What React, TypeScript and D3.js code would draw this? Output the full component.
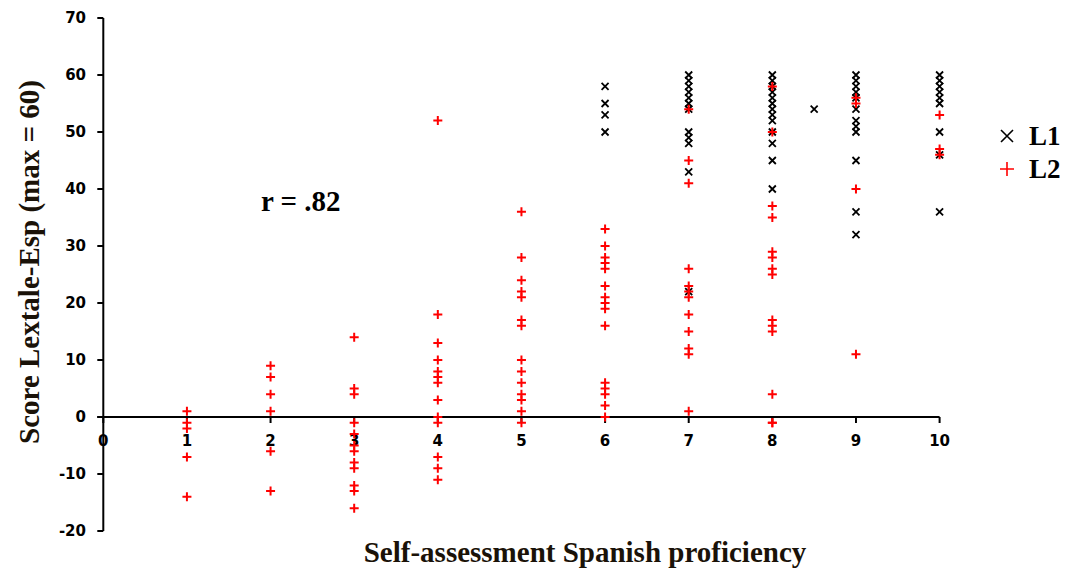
import React from "react";
import * as d3 from "d3";

const xTicks = [0, 1, 2, 3, 4, 5, 6, 7, 8, 9, 10];
const yTicks = [-20, -10, 0, 10, 20, 30, 40, 50, 60, 70];

// L1 series: [proficiency, score]
const l1X = [
  6, 6, 6, 6,
  7, 7, 7, 7, 7, 7, 7, 7, 7, 7, 7, 7,
  8, 8, 8, 8, 8, 8, 8, 8, 8, 8, 8, 8, 8,
  8.5,
  9, 9, 9, 9, 9, 9, 9, 9, 9, 9, 9, 9,
  10, 10, 10, 10, 10, 10, 10, 10, 10,
];
const l1Y = [
  58, 55, 53, 50,
  60, 59, 58, 57, 56, 55, 54, 50, 49, 48, 43, 22,
  60, 59, 58, 57, 56, 55, 54, 53, 52, 50, 48, 45, 40,
  54,
  60, 59, 58, 57, 56, 54, 52, 51, 50, 45, 36, 32,
  60, 59, 58, 57, 56, 55, 50, 46, 36,
];

// L2 series
const l2X = [
  1, 1, 1, 1, 1,
  2, 2, 2, 2, 2, 2,
  3, 3, 3, 3, 3, 3, 3, 3, 3, 3, 3, 3,
  4, 4, 4, 4, 4, 4, 4, 4, 4, 4, 4, 4, 4,
  5, 5, 5, 5, 5, 5, 5, 5, 5, 5, 5, 5, 5, 5,
  6, 6, 6, 6, 6, 6, 6, 6, 6, 6, 6, 6, 6, 6, 6,
  7, 7, 7, 7, 7, 7, 7, 7, 7, 7, 7, 7,
  8, 8, 8, 8, 8, 8, 8, 8, 8, 8, 8, 8, 8, 8,
  9, 9, 9, 9,
  10, 10, 10,
];
const l2Y = [
  1, -1, -2, -7, -14,
  9, 7, 4, 1, -6, -13,
  14, 5, 4, -1, -3, -5, -6, -8, -9, -12, -13, -16,
  52, 18, 13, 10, 8, 7, 6, 3, 0, -1, -7, -9, -11,
  36, 28, 24, 22, 21, 17, 16, 10, 8, 6, 4, 3, 1, -1,
  33, 30, 28, 27, 26, 23, 21, 20, 19, 16, 6, 5, 4, 2, 0,
  54, 45, 41, 26, 23, 22, 21, 18, 15, 12, 11, 1,
  58, 50, 37, 35, 29, 28, 26, 25, 17, 16, 15, 4, -1,
  -1,
  56, 55, 40, 11,
  53, 47, 46,
];

const seriesNames = ["L1", "L2"];
const corrLabel = "r = .82";
const xTitle = "Self-assessment Spanish proficiency";
const yTitle = "Score Lextale-Esp (max = 60)";

export default function App() {
  const W = 1066;
  const H = 570;
  const x = d3.scaleLinear().domain([0, 10]).range([103.3, 939.6]);
  const y = d3.scaleLinear().domain([-20, 70]).range([531, 18]);
  const serif = "'Liberation Serif', 'Times New Roman', serif";
  const sans = "'DejaVu Sans', Verdana, sans-serif";
  const cross = (cx: number, cy: number, s: number) =>
    `M${cx - s},${cy - s}L${cx + s},${cy + s}M${cx - s},${cy + s}L${cx + s},${cy - s}`;
  const plus = (cx: number, cy: number, s: number) =>
    `M${cx - s},${cy}L${cx + s},${cy}M${cx},${cy - s}L${cx},${cy + s}`;
  const l2Pts = l2X.map((v, i) => [v, l2Y[i] ?? 0]);

  return (
    <svg
      width={W}
      height={H}
      style={{ position: "absolute", left: 0, top: 0, background: "#fff" }}
    >
      {/* y axis */}
      <line x1={x(0)} x2={x(0)} y1={y(70)} y2={y(-20)} stroke="#000" strokeWidth={2} />
      {yTicks.map((t) => (
        <g key={"y" + t}>
          <line x1={x(0) - 6} x2={x(0)} y1={y(t)} y2={y(t)} stroke="#000" strokeWidth={2} />
          <text
            x={86}
            y={y(t)}
            textAnchor="end"
            dominantBaseline="central"
            fontFamily={sans}
            fontWeight="bold"
            fontSize={15}
            fill="#000"
          >
            {t}
          </text>
        </g>
      ))}
      {/* x axis at zero */}
      <line x1={x(0) - 6} x2={x(10)} y1={y(0)} y2={y(0)} stroke="#000" strokeWidth={2} />
      {xTicks.map((t) => (
        <g key={"x" + t}>
          <line x1={x(t)} x2={x(t)} y1={y(0)} y2={y(0) + 6} stroke="#000" strokeWidth={2} />
          <text
            x={x(t)}
            y={y(0) + 24}
            textAnchor="middle"
            dominantBaseline="central"
            fontFamily={sans}
            fontWeight="bold"
            fontSize={15}
            fill="#000"
          >
            {t}
          </text>
        </g>
      ))}
      {/* L1 markers */}
      {l1X.map((v, i) => (
        <path
          key={"a" + i}
          d={cross(x(v), y(l1Y[i]), 3.5)}
          stroke="#000"
          strokeWidth={1.8}
          fill="none"
        />
      ))}
      {/* L2 markers */}
      {l2Pts.map(([v, s], i) => (
        <path
          key={"b" + i}
          d={plus(x(v), y(s), 4.5)}
          stroke="#ff0000"
          strokeWidth={2}
          fill="none"
        />
      ))}
      {/* correlation label */}
      <text x={261} y={211} fontFamily={serif} fontWeight="bold" fontSize={29} fill="#000">
        {corrLabel}
      </text>
      {/* legend */}
      <path d={cross(1007, 136, 6)} stroke="#000" strokeWidth={1.6} fill="none" />
      <text x={1029} y={145} fontFamily={serif} fontWeight="bold" fontSize={27} fill="#000">
        {seriesNames[0]}
      </text>
      <path d={plus(1007, 169, 7)} stroke="#ff0000" strokeWidth={1.6} fill="none" />
      <text x={1029} y={178} fontFamily={serif} fontWeight="bold" fontSize={27} fill="#000">
        {seriesNames[1]}
      </text>
      {/* axis titles */}
      <text
        x={585}
        y={562}
        textAnchor="middle"
        fontFamily={serif}
        fontWeight="bold"
        fontSize={29}
        fill="#1a1208"
      >
        {xTitle}
      </text>
      <text
        transform={`translate(39,${262}) rotate(-90)`}
        textAnchor="middle"
        fontFamily={serif}
        fontWeight="bold"
        fontSize={29}
        fill="#1a1208"
      >
        {yTitle}
      </text>
    </svg>
  );
}
